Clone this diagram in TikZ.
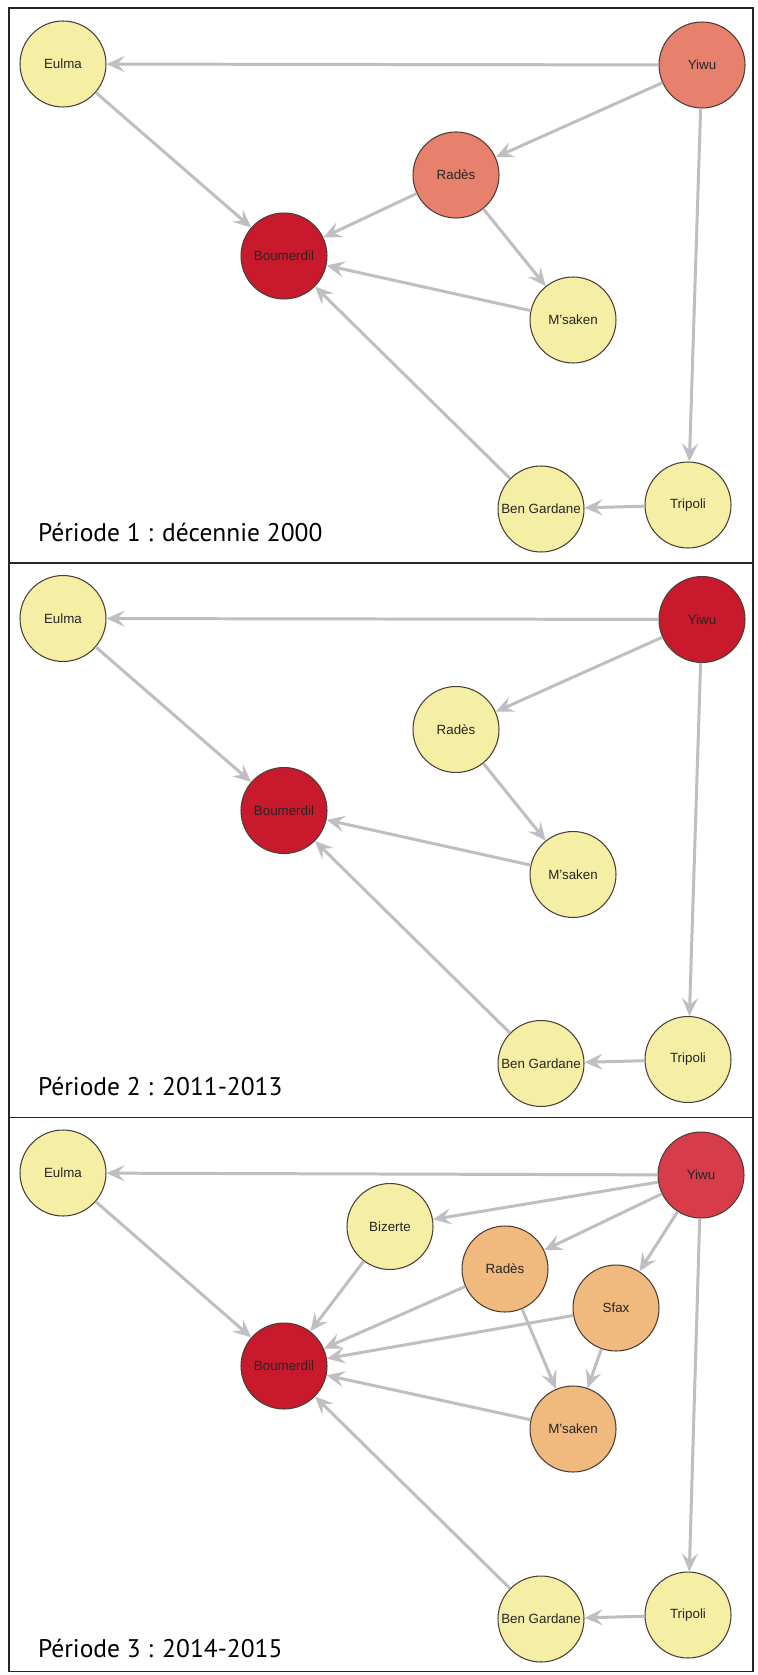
\documentclass[tikz,border=0pt]{standalone}
\usepackage{fontspec}
\setmainfont{Liberation Sans}
\newfontfamily\periodfont{PT Sans}
\usepackage{tikz}
\usetikzlibrary{arrows.meta}
\definecolor{nyellow}{RGB}{245,238,165}
\definecolor{norange}{RGB}{240,185,125}
\definecolor{nsalmon}{RGB}{232,128,110}
\definecolor{nred}{RGB}{215,60,75}
\definecolor{ndark}{RGB}{200,25,45}
\definecolor{nline}{RGB}{75,62,52}
\definecolor{ngray}{RGB}{190,190,195}
\tikzset{
  city/.style  ={circle, draw=nline, line width=0.6pt, minimum size=1.72cm,
                 inner sep=0pt, font=\fontsize{7.6}{8}\selectfont, text=black!85},
  low/.style   ={city, fill=nyellow},
  mid/.style   ={city, fill=norange},
  warm/.style  ={city, fill=nsalmon},
  hot/.style   ={city, fill=nred},
  hub/.style   ={city, fill=ndark},
  flow/.style  ={-{Stealth[length=3.6mm,width=3.2mm,inset=1.4mm]}, draw=ngray,
                 line width=1.7pt},
  panel/.style ={draw=black!85, line width=1.1pt},
  period/.style={anchor=base west, inner sep=0pt,
                 font=\periodfont\fontsize{14.5}{16}\selectfont}
}
\begin{document}
\begin{tikzpicture}[x=0.02cm, y=-0.02cm]
\useasboundingbox (0,0) rectangle (757,1675);
\fill[white] (0,0) rectangle (757,1675);

% Periode 1
\draw[panel] (8.7,8) rectangle (753,563);
\node[low]  (eulmaA)   at (63,64)   {Eulma};
\node[warm] (yiwuA)    at (702,65)  {Yiwu};
\node[warm] (radesA)   at (456,175) {Radès};
\node[hub]  (boumA)    at (284,256) {Boumerdil};
\node[low]  (msakenA)  at (573,320) {M'saken};
\node[low]  (bengA)    at (541,509) {Ben Gardane};
\node[low]  (tripoliA) at (688,505) {Tripoli};
\node[period] (titleA) at (37.7,541) {Période 1 : décennie 2000};
\draw[flow] (yiwuA) -- (eulmaA);
\draw[flow] (yiwuA) -- (radesA);
\draw[flow] (yiwuA) -- (tripoliA);
\draw[flow] (eulmaA) -- (boumA);
\draw[flow] (radesA) -- (boumA);
\draw[flow] (radesA) -- (msakenA);
\draw[flow] (msakenA) -- (boumA);
\draw[flow] (tripoliA) -- (bengA);
\draw[flow] (bengA) -- (boumA);

% Periode 2
\draw[panel] (8.7,563) rectangle (753,1117.5);
\node[low]  (eulmaB)   at (63,618.5)   {Eulma};
\node[hub]  (yiwuB)    at (702,619.5)  {Yiwu};
\node[low]  (radesB)   at (456,729.5)  {Radès};
\node[hub]  (boumB)    at (284,810.5)  {Boumerdil};
\node[low]  (msakenB)  at (573,874.5)  {M'saken};
\node[low]  (bengB)    at (541,1063.5) {Ben Gardane};
\node[low]  (tripoliB) at (688,1059.5) {Tripoli};
\node[period] (titleB) at (37.7,1095.5) {Période 2 : 2011-2013};
\draw[flow] (yiwuB) -- (eulmaB);
\draw[flow] (yiwuB) -- (radesB);
\draw[flow] (yiwuB) -- (tripoliB);
\draw[flow] (eulmaB) -- (boumB);
\draw[flow] (radesB) -- (msakenB);
\draw[flow] (msakenB) -- (boumB);
\draw[flow] (tripoliB) -- (bengB);
\draw[flow] (bengB) -- (boumB);

% Periode 3
\draw[panel] (8.7,1117.5) rectangle (753,1671.5);
\node[low]  (eulmaC)   at (63,1173)   {Eulma};
\node[hot]  (yiwuC)    at (701,1175)  {Yiwu};
\node[low]  (bizerteC) at (390,1226.5){Bizerte};
\node[mid]  (radesC)   at (505,1269)  {Radès};
\node[mid]  (sfaxC)    at (616,1308)  {Sfax};
\node[hub]  (boumC)    at (284,1366)  {Boumerdil};
\node[mid]  (msakenC)  at (573,1429)  {M'saken};
\node[low]  (bengC)    at (541,1619)  {Ben Gardane};
\node[low]  (tripoliC) at (688,1615)  {Tripoli};
\node[period] (titleC) at (37.7,1657) {Période 3 : 2014-2015};
\draw[flow] (yiwuC) -- (eulmaC);
\draw[flow] (yiwuC) -- (bizerteC);
\draw[flow] (yiwuC) -- (radesC);
\draw[flow] (yiwuC) -- (sfaxC);
\draw[flow] (yiwuC) -- (tripoliC);
\draw[flow] (eulmaC) -- (boumC);
\draw[flow] (bizerteC) -- (boumC);
\draw[flow] (radesC) -- (boumC);
\draw[flow] (sfaxC) -- (boumC);
\draw[flow] (radesC) -- (msakenC);
\draw[flow] (sfaxC) -- (msakenC);
\draw[flow] (msakenC) -- (boumC);
\draw[flow] (tripoliC) -- (bengC);
\draw[flow] (bengC) -- (boumC);
\end{tikzpicture}
\end{document}
